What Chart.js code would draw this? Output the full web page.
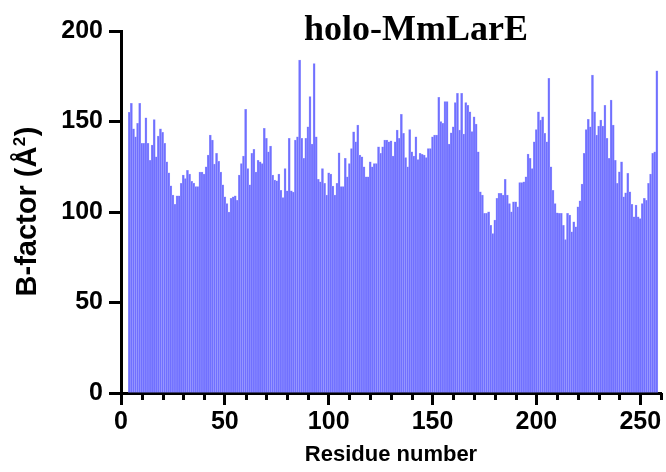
<!DOCTYPE html>
<html><head><meta charset="utf-8">
<script src="https://cdn.jsdelivr.net/npm/chart.js@4.4.1/dist/chart.umd.min.js"></script>
<style>html,body{margin:0;padding:0;background:#fff;overflow:hidden}#wrap{width:666px;height:472px;position:relative}</style>
</head><body><div id="wrap"><canvas id="c" width="666" height="472"></canvas></div>
<script>
const chartTitle = 'holo-MmLarE';
const xAxisTitle = 'Residue number';
const yAxisTitleMain = 'B-factor (Å';
const yAxisTitleSup = '2';
const yAxisTitleEnd = ')';
const firstResidue = 4;
const bFactor = [
  155, 160, 146, 141.5, 149, 160, 138, 138, 152, 138, 128.6, 137, 151, 130.5, 142, 146, 144, 138, 127.7, 121.6,
  114.5, 109.3, 104.3, 109, 109, 115.8, 120.4, 118.5, 123, 121, 117, 116, 114, 114, 122,
  122, 121, 125, 131.4, 142.5, 139.7, 126.5, 132.4, 128, 122, 115, 108.4, 104.7, 100, 107.5, 108.4, 109, 106.5,
  120.4, 126.8, 130.9, 156.7, 124, 115, 132.4, 134.6, 122, 128.6, 127.7, 126.8, 146.2, 140.7, 133.3, 136.4,
  120.4, 117.6, 117.2, 121, 112, 108, 124, 111.7, 140.7, 111.7, 111, 139.7, 141.5, 184,
  140.7, 129.6, 140.7, 147, 163.7, 137.5, 182, 141.5, 118, 116.7, 124, 115.8, 109.3, 121.6, 121, 114.3, 109.3,
  115.8, 132.7, 114, 114, 129.6, 119.4, 126.8, 135.1, 144.3, 138.8, 148, 131.4, 130.5, 125, 119.4, 119.4,
  127.7, 125, 126.8, 126.8, 136, 132.4, 136, 139.7, 139.7, 138.8,
  139.3, 130.9, 138.8, 145.2, 140.7, 154, 143.4, 130.1, 125, 145.6, 133.3, 130.9, 141.5, 129, 132.4, 131.8,
  131.4, 130.1, 135.1, 135.1, 141.5, 142.5, 142.5, 163.3, 149.9, 149, 161, 161, 137.5, 143.8, 147, 160.4,
  165.5, 145.2, 165.5, 143, 160.4, 159, 155.4, 144.4, 152.6, 148.6, 133.3,
  111.2, 109.3, 99.2, 99.2, 100.1, 92.7, 88.1, 95.5, 107.5, 110.3, 110.3, 109.3, 118, 109.3, 104.7, 100.1,
  105.6, 105.6, 102.8, 116.3, 116.3, 116.7, 119.4, 132, 129.6, 124, 138.8, 145.6, 155.4, 150.8, 152.6, 143.4,
  138.8, 173.8, 125, 112, 104.7, 99.5, 99.2,
  99.2, 92.7, 84.8, 99.2, 98.3, 89, 94.6, 91.8, 102.8, 106.2, 115.4, 132.4, 145.6, 151.2, 147, 175.7, 155.4,
  142.5, 147.5, 150.8, 147.5, 159, 140.7, 129.6, 161.8, 148, 128.6, 115.8, 122.2, 127.7, 108.4, 110.6, 121.3,
  111.2, 104.3, 97.3, 103.8, 97.3, 96.4, 104.7, 107.5, 106.5, 115.8, 120.9, 132.4, 133.3, 178
];
const residues = bFactor.map((_, i) => firstResidue + i);
const xTicks = [0, 50, 100, 150, 200, 250];
const xMinorTicks = [10, 20, 30, 40, 60, 70, 80, 90, 110, 120, 130, 140, 160, 170, 180, 190, 210, 220, 230, 240, 260];
const yTicks = [0, 50, 100, 150, 200];

const sans = '"Liberation Sans", Arial, sans-serif';
const tickFont = {family: sans, weight: 'bold', size: 25};
const xTitleFont = {family: sans, weight: 'bold', size: 22};

const extras = {
  id: 'extras',
  afterDraw(chart) {
    const {ctx, scales: {x, y}, chartArea} = chart;
    ctx.save();
    ctx.strokeStyle = '#000';
    ctx.lineWidth = 3;
    xMinorTicks.forEach(v => {
      const px = Math.round(x.getPixelForValue(v)) + 0.5;
      ctx.beginPath();
      ctx.moveTo(px, chartArea.bottom);
      ctx.lineTo(px, chartArea.bottom + 7);
      ctx.stroke();
    });
    ctx.fillStyle = '#000';
    ctx.font = 'bold 36px "Liberation Serif", "Times New Roman", serif';
    ctx.textAlign = 'center';
    ctx.textBaseline = 'alphabetic';
    ctx.fillText(chartTitle, 416, 40);

    // y axis title with real superscript
    const mainFont = 'bold 29px ' + sans;
    const supFont = 'bold 17px ' + sans;
    ctx.font = mainFont;
    const w1 = ctx.measureText(yAxisTitleMain).width;
    const w3 = ctx.measureText(yAxisTitleEnd).width;
    ctx.font = supFont;
    const w2 = ctx.measureText(yAxisTitleSup).width;
    const total = w1 + w2 + w3;
    const cy = (y.top + y.bottom) / 2;
    ctx.translate(36, cy);
    ctx.rotate(-Math.PI / 2);
    ctx.textAlign = 'left';
    let sx = -total / 2;
    ctx.font = mainFont;
    ctx.fillText(yAxisTitleMain, sx, 0);
    sx += w1;
    ctx.font = supFont;
    ctx.fillText(yAxisTitleSup, sx + 0.5, -11);
    sx += w2 + 1;
    ctx.font = mainFont;
    ctx.fillText(yAxisTitleEnd, sx, 0);
    ctx.restore();
  }
};

new Chart(document.getElementById('c'), {
  type: 'bar',
  data: {
    datasets: [{
      data: residues.map((r, i) => ({x: r, y: bFactor[i]})),
      backgroundColor: '#7070ff',
      borderColor: '#a4a4ff',
      borderWidth: 0.5,
      barPercentage: 1,
      categoryPercentage: 1
    }]
  },
  options: {
    responsive: false,
    animation: false,
    layout: {padding: {top: 31, right: 5, left: 0, bottom: 0}},
    plugins: {legend: {display: false}, tooltip: {enabled: false}},
    scales: {
      x: {
        type: 'linear', min: 0, max: 260, offset: false,
        afterBuildTicks: s => { s.ticks = xTicks.map(v => ({value: v})); },
        afterFit: s => { s.height = 79; },
        grid: {display: true, offset: false, drawOnChartArea: false, drawTicks: true, tickLength: 12, tickWidth: 3, tickColor: '#000'},
        border: {display: true, color: '#000', width: 3},
        ticks: {color: '#000', font: tickFont, padding: 2, maxRotation: 0, autoSkip: false},
        title: {display: true, text: xAxisTitle, color: '#000', font: xTitleFont, padding: {top: 0, bottom: 4}}
      },
      y: {
        min: 0, max: 200,
        afterBuildTicks: s => { s.ticks = yTicks.map(v => ({value: v})); },
        afterFit: s => { s.width = 121; },
        grid: {display: true, offset: false, drawOnChartArea: false, drawTicks: true, tickLength: 12, tickWidth: 3, tickColor: '#000'},
        border: {display: true, color: '#000', width: 3},
        ticks: {color: '#000', font: tickFont, padding: 6},
        title: {display: false}
      }
    }
  },
  plugins: [extras]
});
</script>
</body></html>
